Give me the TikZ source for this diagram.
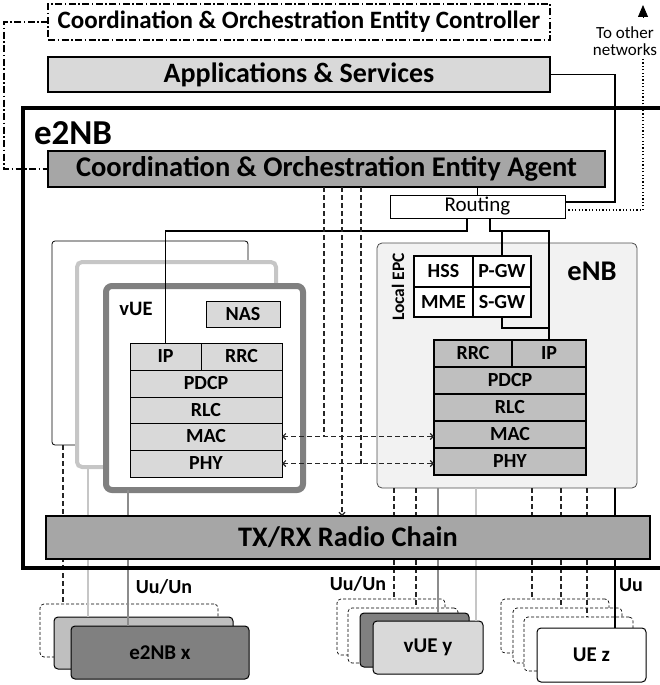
\documentclass[tikz,border=0pt]{standalone}
\usepackage{fontspec}
\setmainfont{Carlito}
\usetikzlibrary{arrows.meta,calc}

\definecolor{lgray}{HTML}{D9D9D9}
\definecolor{mgray}{HTML}{BFBFBF}
\definecolor{dgray}{HTML}{A6A6A6}
\definecolor{xgray}{HTML}{808080}
\definecolor{pale}{HTML}{F2F2F2}
\definecolor{edge}{HTML}{C6C6C6}

\newcommand\fs[1]{\fontsize{#1}{#1}\selectfont}
% \boxat{name}{style}{x1}{y1}{x2}{y2}{text}: a node spanning two corners
\newcommand\boxat[7]{%
  \node[#2, minimum width={(#5)-(#3)}, minimum height={(#6)-(#4)}]
    (#1) at ({((#3)+(#5))/2},{((#4)+(#6))/2}) {#7};}

\begin{document}
\begin{tikzpicture}[x=1pt,y=-1pt,
  every node/.style={inner sep=0pt, outer sep=0pt},
  ctrl/.style={draw, line width=1.3pt, dash pattern=on 7pt off 2.5pt on 1.5pt off 2.5pt, fill=white, font=\bfseries\fs{25}},
  appsbox/.style={draw, line width=1.3pt, fill=lgray, font=\bfseries\fs{28}},
  agentbox/.style={draw, line width=1.3pt, fill=dgray, font=\bfseries\fs{28.5}},
  routebox/.style={draw, line width=1pt, fill=white, font=\fs{21}},
  vback/.style={draw, line width=0.8pt, rounded corners=3pt, fill=white},
  vmid/.style={draw=edge, line width=4pt, rounded corners=5pt, fill=white},
  vfront/.style={draw=xgray, line width=6pt, rounded corners=6pt, fill=white},
  vlayer/.style={draw, line width=1pt, fill=lgray, font=\bfseries\fs{20}},
  enbbox/.style={draw=black!70, line width=0.8pt, rounded corners=5pt, fill=pale},
  epc/.style={draw, line width=1.3pt, fill=white, font=\bfseries\fs{20}},
  elayer/.style={draw, line width=1.6pt, fill=mgray, font=\bfseries\fs{20}},
  txrxbox/.style={draw, line width=1.3pt, fill=dgray, font=\bfseries\fs{28.3}},
  ghost/.style={draw, line width=0.7pt, dash pattern=on 3pt off 2pt, rounded corners=4pt, fill=white},
  unit/.style={draw, line width=1pt, rounded corners=4pt, font=\bfseries\fs{21}},
  lbl/.style={font=\bfseries\fs{#1}},
  link/.style={line width=1.2pt},
  dashlink/.style={line width=1.1pt, draw=black!85, dash pattern=on 5pt off 3pt},
  lglink/.style={line width=1.3pt, draw=edge},
  glink/.style={line width=1.3pt, draw=black!45},
  barb/.style={{Straight Barb[length=3pt,width=6pt]}-{Straight Barb[length=3pt,width=6pt]}},
  dotlink/.style={line width=1.1pt, dash pattern=on 1.2pt off 2.2pt}
]
\useasboundingbox (0,0) rectangle (659,685);

% top level: controller and applications
\boxat{controller}{ctrl}{48}{4}{550}{40}{Coordination \& Orchestration Entity Controller}
\boxat{apps}{appsbox}{48}{57}{550}{92}{Applications \& Services}

% agent and routing inside the e2NB
\boxat{agent}{agentbox}{48}{151}{605}{187}{Coordination \& Orchestration Entity Agent}
\boxat{routing}{routebox}{390}{195}{565}{218}{Routing}
\node[lbl=35, anchor=west] (e2nblbl) at (34,133) {e2NB};

% stacked virtual UEs
\boxat{vback}{vback}{52}{241}{248}{445}{}
\boxat{vmid}{vmid}{77}{262}{276}{467}{}
\boxat{vfront}{vfront}{106}{286}{303}{490}{}
\node[lbl=20.5] (vuelbl) at (136,309) {vUE};
\boxat{nas}{vlayer}{206}{301}{280}{327}{NAS}
\boxat{vip}{vlayer}{130}{343}{201}{370}{IP}
\boxat{vrrc}{vlayer}{201}{343}{282}{370}{RRC}
\boxat{vpdcp}{vlayer}{130}{370}{282}{397}{PDCP}
\boxat{vrlc}{vlayer}{130}{397}{282}{423}{RLC}
\boxat{vmac}{vlayer}{130}{423}{282}{450}{MAC}
\boxat{vphy}{vlayer}{130}{450}{282}{477}{PHY}

% eNB with local EPC
\boxat{enb}{enbbox}{377}{243}{637}{488}{}
\node[lbl=28.5] (enblbl) at (592,271) {eNB};
\node[lbl=17.5, rotate=90] (epclbl) at (398,287) {Local EPC};
\boxat{hss}{epc}{414}{256}{473}{287}{HSS}
\boxat{pgw}{epc}{473}{256}{531}{287}{P-GW}
\boxat{mme}{epc}{414}{287}{473}{317}{MME}
\boxat{sgw}{epc}{473}{287}{531}{317}{S-GW}
\boxat{errc}{elayer}{434}{340}{512}{367}{RRC}
\boxat{eip}{elayer}{512}{340}{586}{367}{IP}
\boxat{epdcp}{elayer}{434}{367}{586}{394}{PDCP}
\boxat{erlc}{elayer}{434}{394}{586}{421}{RLC}
\boxat{emac}{elayer}{434}{421}{586}{448}{MAC}
\boxat{ephy}{elayer}{434}{448}{586}{475}{PHY}

% peer nodes below the radio chain
\boxat{xghost}{ghost}{40}{604}{218}{657}{}
\boxat{xmid}{unit, fill=mgray}{54}{617}{233}{669}{}
\boxat{xfront}{unit, fill=xgray}{71}{626}{249}{679}{e2NB x}
\boxat{yghostA}{ghost}{337}{599}{445}{655}{}
\boxat{yghostB}{ghost}{348}{608}{458}{663}{}
\boxat{ydark}{unit, fill=xgray}{360}{613}{469}{667}{}
\boxat{yfront}{unit, fill=lgray}{373}{621}{483}{674}{vUE y}
\boxat{zghostA}{ghost}{501}{599}{609}{653}{}
\boxat{zghostB}{ghost}{513}{608}{622}{663}{}
\boxat{zghostC}{ghost}{524}{617}{633}{671}{}
\boxat{zfront}{unit, fill=white}{537}{628}{646}{682}{UE z}
\node[lbl=20] (uu1) at (164,587) {Uu/Un};
\node[lbl=20] (uu2) at (358,584) {Uu/Un};
\node[lbl=20] (uu3) at (631,585) {Uu};

% external networks
\node[font=\fs{17}, align=center] (netlbl) at (625,41) {To other\\networks};
\coordinate (nettip) at (643,5);
\coordinate (netbase) at (643,18);
\coordinate (netfoot) at (643,57);
\coordinate (netturn) at (643,210);
\draw[line width=0.8pt, -{Triangle[length=12pt,width=10pt]}] (netbase) -- (nettip);
\draw[dotlink] (netturn -| routing.east) -- (netturn) -- (netfoot);

% controller to agent
\coordinate (cl) at (4,0);
\draw[line width=1.3pt, dash pattern=on 7pt off 2.5pt on 1.5pt off 2.5pt]
  (controller.west) -- (controller.west -| cl) -- (cl |- agent.west) -- (agent.west);

% applications and routing
\coordinate (appsturn) at (615,202);
\draw[link] (apps.east) -| (appsturn) -- (appsturn -| routing.east);
\draw[link] (routing.north) -- (routing.north |- agent.south);
\coordinate (rv) at (467,231);
\draw[link] (rv |- routing.south) -- (rv) -| (vip.north);
\coordinate (re) at (490,231);
\draw[link] (re |- routing.south) -- (re) -| (eip.north);
\draw[link] (pgw.north |- re) -- (pgw.north);
\draw[link] (sgw.south) -- ++(0,11) -| (eip.north);

% agent control of MAC and PHY
\coordinate (c1) at (324,0);
\coordinate (c2) at (342,0);
\coordinate (c3) at (361,0);
\draw[dashlink] (c1 |- agent.south) -- (c1 |- vmac.east);
\draw[dashlink] (c3 |- agent.south) -- (c3 |- vphy.east);
\draw[dashlink, barb] (vmac.east) -- (vmac.east -| emac.west);
\draw[dashlink, barb] (vphy.east) -- (vphy.east -| ephy.west);

% air interfaces from the vUEs
\coordinate (u1) at (63,0);
\coordinate (u2) at (88,0);
\coordinate (u3) at (128,0);
\draw[dashlink] (u1 |- vback.south) -- (u1 |- xghost.north);
\draw[lglink] (u2 |- vmid.south) -- (u2 |- xmid.north);
\draw[glink] (u3 |- vfront.south) -- (u3 |- xfront.north);

% air interfaces from the eNB
\foreach \xx/\tgt/\sty in {394/yghostA/dashlink, 416/yghostB/dashlink, 438/ydark/glink,
    476/yfront/lglink, 532/zghostA/dashlink, 561/zghostB/dashlink, 587/zghostC/dashlink, 615/zfront/link}{
  \coordinate (ecol) at (\xx,0);
  \draw[\sty] (ecol |- enb.south) -- (ecol |- \tgt.north);
}

% radio chain and e2NB frame on top
\boxat{txrx}{txrxbox}{46}{516}{650}{559}{TX/RX Radio Chain}
\draw[dashlink, -{Straight Barb[length=3pt,width=6pt]}] (c2 |- agent.south) -- (c2 |- txrx.north);
\draw[line width=4pt] (672,108) -- (23,108) -- (23,568) -- (672,568);
\end{tikzpicture}
\end{document}
